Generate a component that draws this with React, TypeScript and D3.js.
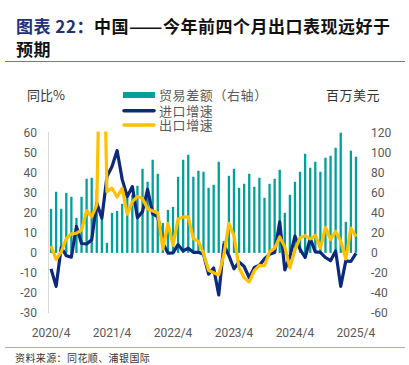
import React, { useEffect, useRef } from 'react';
import * as d3 from 'd3';

// monthly, 2020/4 .. 2025/4
const months = d3.timeMonth.range(new Date(2020, 3, 1), new Date(2025, 4, 1));
const fmt = d3.timeFormat('%Y/%-m');

// 贸易差额 (右轴)
const balance = [
  44, 61, 44, 60, 56, 35, 56, 74, 75,
  63, 34, 10, 40, 42, 49, 56, 58, 67, 84, 71, 93,
  79, 30, 43, 46, 76, 93, 98, 76, 82, 81, 65, 68,
  91, 12, 77, 84, 65, 69, 79, 66, 75, 55, 69, 74,
  83, 40, 58, 71, 81, 99, 85, 91, 81, 95, 97, 105,
  120, 31, 102, 96,
];

// 进口增速
const imports = [
  -8, -16.7, 2.7, -1.4, -2.1, 13.2, 4.7, 4.5, 6.5,
  25, 17.3, 38.1, 43.1, 51.1, 36.7, 28.1, 33.1, 17.6, 20.6, 31.7, 19.5,
  18, 5, -0.1, 0.0, 4.1, 1.0, 2.3, 0.3, 0.3, -0.7, -10.6, -7.5,
  -21, 4, -1.4, -7.9, -4.5, -6.8, -12.4, -7.3, -6.2, -3, -0.6, 0.2,
  15.5, -8.5, -1.9, 8.4, 1.8, -2.3, 7.2, 0.5, 0.3, -2.3, -3.9, 1.0,
  -16.7, -4, -4.3, -0.2,
];

// 出口增速
const exports = [
  3.5, -3.3, 0.5, 7.2, 9.5, 9.9, 11.4, 21.1, 18.1,
  24, 154.9, 30.6, 32.3, 27.9, 32.2, 19.3, 25.6, 28.1, 27.1, 22.0, 20.9,
  20, 2, 14.7, 3.9, 16.9, 17.9, 18.0, 7.1, 5.7, -0.3, -8.7, -9.9,
  -11, -1, 14.8, 8.5, -7.5, -12.4, -14.5, -8.8, -6.2, -6.4, 0.5, 2.3,
  8, 3, -7.5, 1.5, 7.6, 8.6, 7.0, 8.7, 2.4, 12.7, 6.7, 10.7,
  6, -3, 12.4, 8.1,
];

const xTicks = ['2020/4', '2021/4', '2022/4', '2023/4', '2024/4', '2025/4'];
const leftTicks = [60, 50, 40, 30, 20, 10, 0, -10, -20, -30];
const rightTicks = [120, 100, 80, 60, 40, 20, 0, -20, -40, -60];

const TEAL = '#00a19b';
const NAVY = '#0b2a7c';
const GOLD = '#ffc000';
const GREY = '#595959';
const NUM_FONT = 'Roboto, sans-serif';
const CJK = '"Noto Sans CJK SC", sans-serif';

export default function App() {
  const ref = useRef<SVGSVGElement>(null);

  useEffect(() => {
    const svg = d3.select(ref.current);
    svg.selectAll('*').remove();

    const keys = months.map(fmt);
    const x = d3.scaleBand().domain(keys).range([48.5, 358.5]);
    const cx = (k: string) => (x(k) as number) + x.bandwidth() / 2;
    const yL = d3.scaleLinear().domain([-30, 60]).range([313, 132.7]);
    const yR = d3.scaleLinear().domain([-60, 120]).range([313, 132.7]);

    // title
    const title = svg.append('text')
      .attr('x', 16).attr('y', 33)
      .attr('font-family', CJK).attr('font-size', 17).attr('font-weight', 700)
      .attr('letter-spacing', 0.5);
    title.append('tspan').attr('fill', '#22307a').text('图表 22：');
    title.append('tspan').attr('fill', '#111').text('中国');
    title.append('tspan').attr('fill', '#111')
      .attr('textLength', 34).attr('lengthAdjust', 'spacingAndGlyphs')
      .text('——');
    title.append('tspan').attr('fill', '#111').text('今年前四个月出口表现远好于');
    svg.append('text')
      .attr('x', 16).attr('y', 56)
      .attr('font-family', CJK).attr('font-size', 17).attr('font-weight', 700)
      .attr('fill', '#111').attr('letter-spacing', 0.5)
      .text('预期');
    svg.append('line')
      .attr('x1', 5).attr('x2', 405).attr('y1', 61.5).attr('y2', 61.5)
      .attr('stroke', '#7373b3').attr('stroke-width', 1.2);

    // unit labels
    svg.append('text')
      .attr('x', 27).attr('y', 100)
      .attr('font-family', CJK).attr('font-size', 13).attr('fill', '#333')
      .text('同比%');
    svg.append('text')
      .attr('x', 326).attr('y', 100)
      .attr('font-family', CJK).attr('font-size', 13).attr('fill', '#333')
      .attr('letter-spacing', 0.5)
      .text('百万美元');

    // legend
    const lg = svg.append('g').attr('font-family', CJK).attr('font-size', 13).attr('fill', GREY).attr('letter-spacing', 0.6);
    lg.append('rect').attr('x', 123).attr('y', 92).attr('width', 32).attr('height', 6).attr('fill', TEAL);
    lg.append('line').attr('x1', 124).attr('x2', 154).attr('y1', 110.7).attr('y2', 110.7)
      .attr('stroke', NAVY).attr('stroke-width', 3.5).attr('stroke-linecap', 'round');
    lg.append('line').attr('x1', 124).attr('x2', 154).attr('y1', 125).attr('y2', 125)
      .attr('stroke', GOLD).attr('stroke-width', 3.5).attr('stroke-linecap', 'round');
    lg.append('text').attr('x', 159).attr('y', 100).text('贸易差额（右轴）');
    lg.append('text').attr('x', 159).attr('y', 115.5).text('进口增速');
    lg.append('text').attr('x', 159).attr('y', 130).text('出口增速');

    // axes
    svg.append('line')
      .attr('x1', 48.5).attr('x2', 48.5).attr('y1', 132).attr('y2', 313)
      .attr('stroke', '#d9d9d9').attr('stroke-width', 1);

    svg.append('g').selectAll('text').data(leftTicks).enter().append('text')
      .attr('x', 37).attr('y', (d) => yL(d) + 4.3)
      .attr('text-anchor', 'end')
      .attr('font-family', NUM_FONT).attr('font-size', 12).attr('fill', GREY)
      .text((d) => d);

    svg.append('g').selectAll('text').data(rightTicks).enter().append('text')
      .attr('x', 371).attr('y', (d) => yR(d) + 4.3)
      .attr('font-family', NUM_FONT).attr('font-size', 12).attr('fill', GREY)
      .text((d) => d);

    svg.append('g').selectAll('text').data(xTicks).enter().append('text')
      .attr('x', (d) => cx(d)).attr('y', 336.5)
      .attr('text-anchor', 'middle')
      .attr('font-family', NUM_FONT).attr('font-size', 12).attr('fill', GREY)
      .text((d) => d);

    // plot
    svg.append('defs').append('clipPath').attr('id', 'plot-clip')
      .append('rect').attr('x', 40).attr('y', 131.5).attr('width', 330).attr('height', 185);

    const plot = svg.append('g').attr('clip-path', 'url(#plot-clip)');
    const barW = 2.3;

    plot.selectAll('rect.bar').data(balance).enter().append('rect')
      .attr('class', 'bar')
      .attr('x', (d, i) => cx(keys[i]) - barW / 2)
      .attr('y', (d) => yR(Math.max(0, d)))
      .attr('width', barW)
      .attr('height', (d) => Math.abs(yR(d) - yR(0)))
      .attr('fill', TEAL);

    const line = d3.line<number>()
      .x((d, i) => cx(keys[i]))
      .y((d) => yL(d));

    plot.append('path').datum(imports)
      .attr('d', line)
      .attr('fill', 'none').attr('stroke', NAVY).attr('stroke-width', 3.2)
      .attr('stroke-linejoin', 'round');

    plot.append('path').datum(exports)
      .attr('d', line)
      .attr('fill', 'none').attr('stroke', GOLD).attr('stroke-width', 3.2)
      .attr('stroke-linejoin', 'round');

    // source
    svg.append('line')
      .attr('x1', 5).attr('x2', 405).attr('y1', 347.5).attr('y2', 347.5)
      .attr('stroke', '#a9a9d4').attr('stroke-width', 1.2);
    svg.append('text')
      .attr('x', 15).attr('y', 362)
      .attr('font-family', CJK).attr('font-size', 10).attr('fill', '#333')
      .attr('letter-spacing', 0.4)
      .text('资料来源：同花顺、浦银国际');
  }, []);

  return (
    <svg ref={ref} width={409} height={365}
      style={{ position: 'absolute', left: 0, top: 0, background: '#fff' }} />
  );
}
